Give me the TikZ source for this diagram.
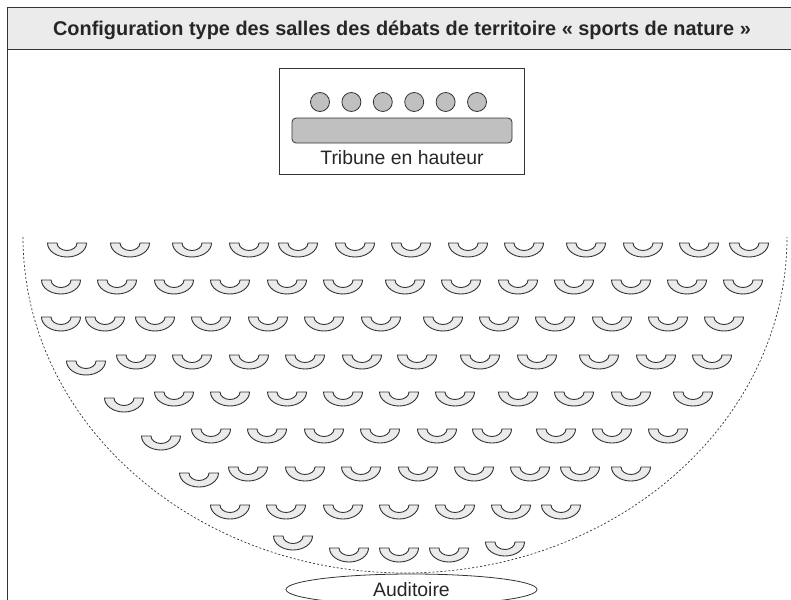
\documentclass[tikz,border=0pt]{standalone}
\usepackage{fontspec}
\setmainfont{Liberation Sans}
\usetikzlibrary{shapes.geometric}
\definecolor{framegray}{HTML}{333333}
\definecolor{lightgray}{HTML}{EBEBEB}
\definecolor{midgray}{HTML}{C0C0C0}
\tikzset{
  seat/.pic={
    \draw[framegray, line width=0.9pt, fill=lightgray]
      (-19.5,0) -- (-10,0) arc[start angle=180, end angle=360, x radius=10, y radius=7.5]
      -- (19.5,0) arc[start angle=0, end angle=-180, x radius=19.5, y radius=14] -- cycle;
  },
  speaker/.style={draw=framegray, line width=0.8pt, fill=midgray, circle, minimum size=19, inner sep=0pt},
  label/.style={font=\fontsize{19.4}{22}\selectfont, text=black!85},
}
\begin{document}
\begin{tikzpicture}[x=1pt, y=1pt]
    \useasboundingbox (0,0) rectangle (791,-599);
    \clip (0,0) rectangle (791,-599);
    % frame and header
    \fill[lightgray] (7,-8) rectangle (800,-50);
    \draw[framegray, line width=1pt] (800,-8) -- (7,-8) -- (7,-610);
    \draw[framegray, line width=1pt] (7,-50) -- (800,-50);
    \node[anchor=base, font=\bfseries\fontsize{19.9}{22}\selectfont, text=black!85] (title) at (402,-36)
        {Configuration type des salles des débats de territoire « sports de nature »};
    % tribune
    \draw[framegray, line width=0.8pt] (279,-68) rectangle (524,-174);
    \foreach \i in {0,...,5}
        \node[speaker] (speaker\i) at (320+31.4*\i,-102) {};
    \draw[framegray, line width=0.8pt, fill=midgray, rounded corners=4] (292,-118) rectangle (512,-143);
    \node[label, anchor=base] (tribune) at (402,-164) {Tribune en hauteur};
    % hall
    \draw[framegray, line width=0.7pt, dash pattern=on 2pt off 2pt]
        (23,-237) arc[start angle=180, end angle=360, x radius=382, y radius=336];
    \foreach \x in {67,130,192,249,298,355,411,468,524,586,643,699,749}
        \pic at (\x,-243) {seat};
    \foreach \x in {61,117,174,230,287,343,405,461,518,574,631,687,743}
        \pic at (\x,-280) {seat};
    \foreach \x in {61,105,155,211,268,324,381,443,499,555,612,668,724}
        \pic at (\x,-317) {seat};
    \pic at (86,-361) {seat};
    \foreach \x in {136,192,249,305,362,417,480,537,599,656,712}
        \pic at (\x,-355) {seat};
    \pic at (124,-398) {seat};
    \foreach \x in {174,230,287,343,399,455,518,574,631,693}
        \pic at (\x,-392) {seat};
    \pic at (161,-436) {seat};
    \foreach \x in {211,267,324,380,437,492,556,612,668}
        \pic at (\x,-429) {seat};
    \pic at (199,-473) {seat};
    \foreach \x in {248,305,361,418,474,530,580,631}
        \pic at (\x,-467) {seat};
    \foreach \x in {230,286,343,399,455,511,561}
        \pic at (\x,-505) {seat};
    \pic at (293,-536) {seat};
    \foreach \x in {349,399,449}
        \pic at (\x,-548) {seat};
    \pic at (505,-542) {seat};
    % audience
    \node[label, draw=framegray, line width=0.8pt, ellipse, minimum width=251, minimum height=31, inner sep=2pt] (audience) at (411.5,-589.5) {Auditoire};
\end{tikzpicture}
\end{document}
